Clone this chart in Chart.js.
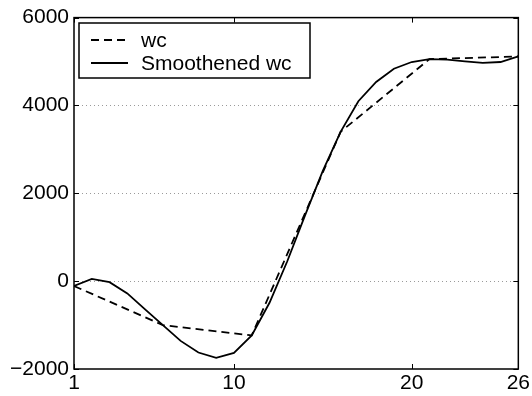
<!DOCTYPE html>
<html>
<head>
<meta charset="utf-8">
<script src="https://cdn.jsdelivr.net/npm/chart.js@4/dist/chart.umd.min.js"></script>
<style>
  html, body { margin: 0; padding: 0; background: #fff; }
  #wrap { width: 532px; height: 396px; position: relative; }
</style>
</head>
<body>
<div id="wrap"><canvas id="c" width="532" height="396"></canvas></div>
<script>
// ---- data ----
const wcX = [1, 6, 11, 16, 21, 26];
const wcValues = [-110, -1000, -1235, 3400, 5055, 5115];
const smoothX = [1, 2, 3, 4, 5, 6, 7, 8, 9, 10, 11, 12, 13, 14, 15, 16, 17, 18, 19, 20, 21, 22, 23, 24, 25, 26];
const smoothValues = [-110, 52, -23, -280, -643, -1000, -1360, -1625, -1746, -1633, -1235, -492, 453, 1497, 2510, 3400, 4097, 4535, 4837, 4989, 5055, 5041, 5004, 4970, 4989, 5115];
const xTickValues = [1, 10, 20, 26];
const yTickValues = [-2000, 0, 2000, 4000, 6000];
const gridValues = [0, 2000, 4000];
const seriesLabels = ['wc', 'Smoothened wc'];

const FONT = '"Liberation Sans", Arial, Helvetica, sans-serif';
const FSIZE = 21;

const framePlugin = {
  id: 'frame',
  beforeDatasetsDraw(chart) {
    const ctx = chart.ctx, a = chart.chartArea, y = chart.scales.y;
    ctx.save();
    ctx.strokeStyle = '#9a9a9a';
    ctx.lineWidth = 1;
    ctx.setLineDash([1, 3]);
    gridValues.forEach(v => {
      const py = Math.round(y.getPixelForValue(v)) + 0.5;
      ctx.beginPath(); ctx.moveTo(a.left, py); ctx.lineTo(a.right, py); ctx.stroke();
    });
    ctx.restore();
  },
  afterDatasetsDraw(chart) {
    const ctx = chart.ctx, a = chart.chartArea, x = chart.scales.x, y = chart.scales.y;
    ctx.save();
    ctx.strokeStyle = '#000';
    ctx.lineWidth = 1.5;
    ctx.setLineDash([]);
    ctx.strokeRect(a.left, a.top, a.right - a.left, a.bottom - a.top);
    const tl = 5;
    ctx.lineWidth = 1;
    xTickValues.forEach(v => {
      const px = Math.round(x.getPixelForValue(v)) + 0.5;
      ctx.beginPath();
      ctx.moveTo(px, a.bottom); ctx.lineTo(px, a.bottom - tl);
      ctx.moveTo(px, a.top); ctx.lineTo(px, a.top + tl);
      ctx.stroke();
    });
    yTickValues.forEach(v => {
      const py = Math.round(y.getPixelForValue(v)) + 0.5;
      ctx.beginPath();
      ctx.moveTo(a.left, py); ctx.lineTo(a.left + tl, py);
      ctx.moveTo(a.right, py); ctx.lineTo(a.right - tl, py);
      ctx.stroke();
    });
    // legend
    const lx = 79, ly = 23, lw = 231, lh = 55;
    ctx.fillStyle = '#fff';
    ctx.fillRect(lx, ly, lw, lh);
    ctx.lineWidth = 1.5;
    ctx.strokeRect(lx, ly, lw, lh);
    const rows = [40, 63];
    chart.data.datasets.forEach((ds, i) => {
      ctx.beginPath();
      ctx.lineWidth = 1.8;
      ctx.setLineDash(ds.borderDash || []);
      ctx.moveTo(91, rows[i]); ctx.lineTo(128, rows[i]);
      ctx.stroke();
      ctx.setLineDash([]);
      ctx.fillStyle = '#000';
      ctx.font = FSIZE + 'px ' + FONT;
      ctx.textBaseline = 'middle';
      ctx.textAlign = 'left';
      ctx.fillText(ds.label, 141, rows[i] + 1);
    });
    ctx.restore();
  }
};

new Chart(document.getElementById('c'), {
  type: 'line',
  data: {
    datasets: [
      {
        label: seriesLabels[0],
        data: wcX.map((v, i) => ({ x: v, y: wcValues[i] })),
        borderColor: '#000', borderWidth: 1.8, borderDash: [8, 5],
        pointRadius: 0, tension: 0, fill: false
      },
      {
        label: seriesLabels[1],
        data: smoothX.map((v, i) => ({ x: v, y: smoothValues[i] })),
        borderColor: '#000', borderWidth: 1.8,
        pointRadius: 0, tension: 0, fill: false
      }
    ]
  },
  options: {
    responsive: false,
    animation: false,
    devicePixelRatio: 1,
    layout: { padding: { left: 0, right: 10, top: 16, bottom: 0 } },
    plugins: { legend: { display: false }, tooltip: { enabled: false } },
    scales: {
      x: {
        type: 'linear', min: 1, max: 26,
        grid: { display: false, drawTicks: false },
        border: { display: false },
        afterBuildTicks: s => { s.ticks = xTickValues.map(v => ({ value: v })); },
        afterFit: s => { s.height = 27; },
        ticks: {
          color: '#000', padding: 2, maxRotation: 0, autoSkip: false,
          font: { family: FONT, size: FSIZE },
          callback: v => String(v)
        }
      },
      y: {
        type: 'linear', min: -2000, max: 6000,
        grid: { display: false, drawTicks: false },
        border: { display: false },
        afterBuildTicks: s => { s.ticks = yTickValues.map(v => ({ value: v })); },
        afterFit: s => { s.width = 74; },
        ticks: {
          color: '#000', padding: 5, autoSkip: false,
          font: { family: FONT, size: FSIZE },
          callback: v => String(v).replace('-', '\u2212')
        }
      }
    }
  },
  plugins: [framePlugin]
});
</script>
</body>
</html>
